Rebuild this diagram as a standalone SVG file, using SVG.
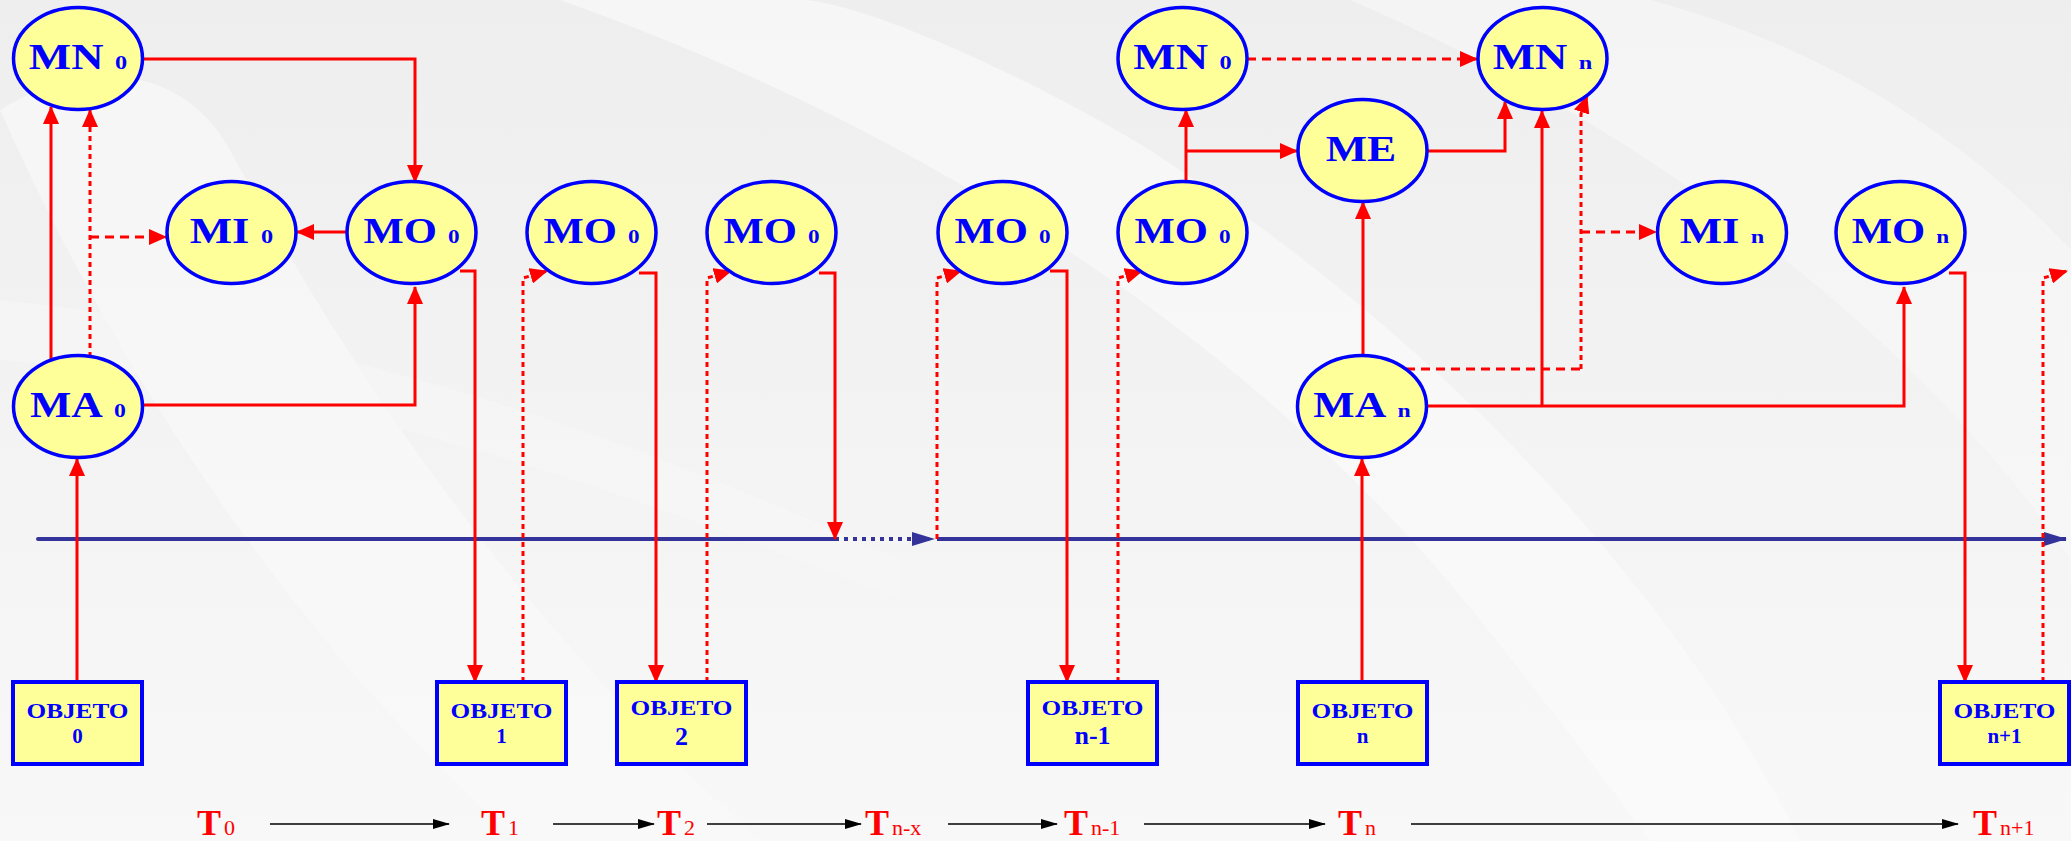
<svg xmlns="http://www.w3.org/2000/svg" width="2071" height="841" viewBox="0 0 2071 841">
<style>
.nd{fill:#ffff99;stroke:#0000ff;stroke-width:3.5}
.bx{fill:#ffff99;stroke:#0000ff;stroke-width:4}
.lb{font-family:"Liberation Serif","Times New Roman",serif;font-weight:bold;fill:#0000ff}
.big{font-size:35px}
.sub{font-size:19px}
.ob{font-size:21px}
.o2{font-size:21px}
.tl{font-family:"Liberation Serif","Times New Roman",serif;fill:#ff0000}
.tT{font-size:36px;font-weight:bold}
.tS{font-size:22px}
.r{fill:none;stroke:#ff0000;stroke-width:3}
.rd{fill:none;stroke:#ff0000;stroke-width:3;stroke-dasharray:5 4}
.rh{fill:none;stroke:#ff0000;stroke-width:3;stroke-dasharray:9 6}
.k{fill:none;stroke:#000;stroke-width:1.5}
</style>
<defs>
<linearGradient id="bg" x1="0" y1="0" x2="0" y2="1">
<stop offset="0" stop-color="#eeeeee"/>
<stop offset="1" stop-color="#f8f8f8"/>
</linearGradient>
<marker id="ar" markerUnits="userSpaceOnUse" markerWidth="18" markerHeight="16" refX="17" refY="8" orient="auto"><path d="M0,0 L18,8 L0,16 Z" fill="#ff0000"/></marker>
<marker id="ab" markerUnits="userSpaceOnUse" markerWidth="24" markerHeight="14" refX="22" refY="7" orient="auto"><path d="M0,0 L23,7 L0,14 Z" fill="#333399"/></marker>
<marker id="ak" markerUnits="userSpaceOnUse" markerWidth="17" markerHeight="10" refX="16" refY="5" orient="auto"><path d="M0,0 L17,5 L0,10 Z" fill="#000"/></marker>
</defs>
<g id="background">
<rect width="2071" height="841" fill="url(#bg)"/>
<path d="M0,110 C120,380 300,650 520,841 L760,841 C560,660 380,430 230,150 C180,60 80,60 0,110 Z" fill="#fafafa" opacity="0.6"/>
<path d="M560,0 C900,120 1250,330 1480,620 C1560,720 1620,800 1650,841 L1800,841 C1700,640 1500,380 1150,150 C1000,60 850,0 800,0 Z" fill="#fbfbfb" opacity="0.6"/>
<path d="M1350,0 C1700,150 1950,380 2071,560 L2071,250 C1950,120 1800,40 1650,0 Z" fill="#f9f9f9" opacity="0.6"/>
<path d="M0,300 C300,330 600,420 900,560 L900,600 C600,480 300,380 0,360 Z" fill="#f6f6f6" opacity="0.6"/>
</g>
<g id="timeline">
<path d="M38,539 H835" stroke="#333399" stroke-width="4" fill="none" stroke-linecap="round"/>
<path d="M835,539 H934" stroke="#333399" stroke-width="4" fill="none" stroke-dasharray="4 5" marker-end="url(#ab)"/>
<path d="M937,539 H2066" stroke="#333399" stroke-width="4" fill="none" marker-end="url(#ab)"/>
</g>
<g id="connectors">
<path class="r" d="M77,682 V459" marker-end="url(#ar)"/>
<path class="r" d="M51,360 V107" marker-end="url(#ar)"/>
<path class="rd" d="M90,357 V110" marker-end="url(#ar)"/>
<path class="rh" d="M90,237 H166" marker-end="url(#ar)"/>
<path class="r" d="M143,59 H415 V182" marker-end="url(#ar)"/>
<path class="r" d="M143,405 H415 V287" marker-end="url(#ar)"/>
<path class="r" d="M347,232 H297" marker-end="url(#ar)"/>
<path class="r" d="M460,271 H475 V682" marker-end="url(#ar)"/>
<path class="rd" d="M523,682 V278 L547,271" marker-end="url(#ar)"/>
<path class="r" d="M639,273 H656 V682" marker-end="url(#ar)"/>
<path class="rd" d="M707,682 V278 L731,271" marker-end="url(#ar)"/>
<path class="r" d="M819,273 H835 V539" marker-end="url(#ar)"/>
<path class="rd" d="M937,539 V278 L961,271" marker-end="url(#ar)"/>
<path class="r" d="M1050,271 H1067 V682" marker-end="url(#ar)"/>
<path class="rd" d="M1118,682 V278 L1142,271" marker-end="url(#ar)"/>
<path class="r" d="M1186,182 V110" marker-end="url(#ar)"/>
<path class="r" d="M1186,151 H1297" marker-end="url(#ar)"/>
<path class="rh" d="M1247,59 H1477" marker-end="url(#ar)"/>
<path class="r" d="M1427,151 H1505 V102" marker-end="url(#ar)"/>
<path class="r" d="M1363,355 V202" marker-end="url(#ar)"/>
<path class="r" d="M1427,406 H1904 V287" marker-end="url(#ar)"/>
<path class="r" d="M1542,406 V111" marker-end="url(#ar)"/>
<path class="rh" d="M1406,369 H1581"/>
<path class="rd" d="M1581,369 V114 L1587,96" marker-end="url(#ar)"/>
<path class="rh" d="M1581,232 H1656" marker-end="url(#ar)"/>
<path class="r" d="M1949,273 H1965 V682" marker-end="url(#ar)"/>
<path class="rd" d="M2043,682 V278 L2067,271" marker-end="url(#ar)"/>
<path class="r" d="M1362,682 V459" marker-end="url(#ar)"/>
</g>
<g id="n-MN0a"><ellipse class="nd" cx="78" cy="58.5" rx="64.5" ry="51"/><text class="lb" transform="translate(78,69) scale(1.28,1)" text-anchor="middle"><tspan class="big">MN</tspan><tspan class="sub" dx="9">0</tspan></text></g>
<g id="n-MI0"><ellipse class="nd" cx="231.5" cy="232.5" rx="64.5" ry="51"/><text class="lb" transform="translate(231.5,243) scale(1.28,1)" text-anchor="middle"><tspan class="big">MI</tspan><tspan class="sub" dx="9">0</tspan></text></g>
<g id="n-MO0a"><ellipse class="nd" cx="411.5" cy="232.5" rx="64.5" ry="51"/><text class="lb" transform="translate(411.5,243) scale(1.22,1)" text-anchor="middle"><tspan class="big">MO</tspan><tspan class="sub" dx="9">0</tspan></text></g>
<g id="n-MA0"><ellipse class="nd" cx="78" cy="406.5" rx="64.5" ry="51"/><text class="lb" transform="translate(78,417) scale(1.25,1)" text-anchor="middle"><tspan class="big">MA</tspan><tspan class="sub" dx="9">0</tspan></text></g>
<g id="n-MO0b"><ellipse class="nd" cx="591.5" cy="232.5" rx="64.5" ry="51"/><text class="lb" transform="translate(591.5,243) scale(1.22,1)" text-anchor="middle"><tspan class="big">MO</tspan><tspan class="sub" dx="9">0</tspan></text></g>
<g id="n-MO0c"><ellipse class="nd" cx="771.5" cy="232.5" rx="64.5" ry="51"/><text class="lb" transform="translate(771.5,243) scale(1.22,1)" text-anchor="middle"><tspan class="big">MO</tspan><tspan class="sub" dx="9">0</tspan></text></g>
<g id="n-MO0d"><ellipse class="nd" cx="1002.5" cy="232.5" rx="64.5" ry="51"/><text class="lb" transform="translate(1002.5,243) scale(1.22,1)" text-anchor="middle"><tspan class="big">MO</tspan><tspan class="sub" dx="9">0</tspan></text></g>
<g id="n-MO0e"><ellipse class="nd" cx="1182.5" cy="232.5" rx="64.5" ry="51"/><text class="lb" transform="translate(1182.5,243) scale(1.22,1)" text-anchor="middle"><tspan class="big">MO</tspan><tspan class="sub" dx="9">0</tspan></text></g>
<g id="n-MN0b"><ellipse class="nd" cx="1182.5" cy="58.5" rx="64.5" ry="51"/><text class="lb" transform="translate(1182.5,69) scale(1.28,1)" text-anchor="middle"><tspan class="big">MN</tspan><tspan class="sub" dx="9">0</tspan></text></g>
<g id="n-ME"><ellipse class="nd" cx="1362.5" cy="150.5" rx="64.5" ry="51"/><text class="lb" transform="translate(1361,161) scale(1.25,1)" text-anchor="middle"><tspan class="big">ME</tspan></text></g>
<g id="n-MNn"><ellipse class="nd" cx="1542.5" cy="58.5" rx="64.5" ry="51"/><text class="lb" transform="translate(1542.5,69) scale(1.28,1)" text-anchor="middle"><tspan class="big">MN</tspan><tspan class="sub" dx="9">n</tspan></text></g>
<g id="n-MAn"><ellipse class="nd" cx="1362" cy="406.5" rx="64.5" ry="51"/><text class="lb" transform="translate(1362,417) scale(1.25,1)" text-anchor="middle"><tspan class="big">MA</tspan><tspan class="sub" dx="9">n</tspan></text></g>
<g id="n-MIn"><ellipse class="nd" cx="1722" cy="232.5" rx="64.5" ry="51"/><text class="lb" transform="translate(1722,243) scale(1.28,1)" text-anchor="middle"><tspan class="big">MI</tspan><tspan class="sub" dx="9">n</tspan></text></g>
<g id="n-MOn"><ellipse class="nd" cx="1900.5" cy="232.5" rx="64.5" ry="51"/><text class="lb" transform="translate(1900.5,243) scale(1.22,1)" text-anchor="middle"><tspan class="big">MO</tspan><tspan class="sub" dx="9">n</tspan></text></g>
<g id="o-0"><rect class="bx" x="13" y="682" width="129" height="82"/><text class="lb ob" x="77.5" y="718" text-anchor="middle" textLength="102" lengthAdjust="spacingAndGlyphs">OBJETO</text><text class="lb o2" x="77.5" y="743" text-anchor="middle">0</text></g>
<g id="o-1"><rect class="bx" x="437" y="682" width="129" height="82"/><text class="lb ob" x="501.5" y="718" text-anchor="middle" textLength="102" lengthAdjust="spacingAndGlyphs">OBJETO</text><text class="lb o2" x="501.5" y="743" text-anchor="middle">1</text></g>
<g id="o-2"><rect class="bx" x="617" y="682" width="129" height="82"/><text class="lb ob" x="681.5" y="715" text-anchor="middle" textLength="102" lengthAdjust="spacingAndGlyphs">OBJETO</text><text class="lb" x="681.5" y="745" text-anchor="middle" font-size="26">2</text></g>
<g id="o-n-1"><rect class="bx" x="1028" y="682" width="129" height="82"/><text class="lb ob" x="1092.5" y="715" text-anchor="middle" textLength="102" lengthAdjust="spacingAndGlyphs">OBJETO</text><text class="lb" x="1092.5" y="744" text-anchor="middle" font-size="26">n-1</text></g>
<g id="o-n"><rect class="bx" x="1298" y="682" width="129" height="82"/><text class="lb ob" x="1362.5" y="718" text-anchor="middle" textLength="102" lengthAdjust="spacingAndGlyphs">OBJETO</text><text class="lb o2" x="1362.5" y="743" text-anchor="middle">n</text></g>
<g id="o-n+1"><rect class="bx" x="1940" y="682" width="129" height="82"/><text class="lb ob" x="2004.5" y="718" text-anchor="middle" textLength="102" lengthAdjust="spacingAndGlyphs">OBJETO</text><text class="lb o2" x="2004.5" y="743" text-anchor="middle">n+1</text></g>
<g id="time-axis">
<path class="k" d="M270,824 H449" marker-end="url(#ak)"/>
<path class="k" d="M553,824 H654" marker-end="url(#ak)"/>
<path class="k" d="M707,824 H861" marker-end="url(#ak)"/>
<path class="k" d="M948,824 H1057" marker-end="url(#ak)"/>
<path class="k" d="M1144,824 H1325" marker-end="url(#ak)"/>
<path class="k" d="M1411,824 H1958" marker-end="url(#ak)"/>
<text class="tl" x="197" y="835"><tspan class="tT">T</tspan><tspan class="tS" dx="3">0</tspan></text>
<text class="tl" x="481" y="835"><tspan class="tT">T</tspan><tspan class="tS" dx="3">1</tspan></text>
<text class="tl" x="657" y="835"><tspan class="tT">T</tspan><tspan class="tS" dx="3">2</tspan></text>
<text class="tl" x="865" y="835"><tspan class="tT">T</tspan><tspan class="tS" dx="3">n-x</tspan></text>
<text class="tl" x="1064" y="835"><tspan class="tT">T</tspan><tspan class="tS" dx="3">n-1</tspan></text>
<text class="tl" x="1338" y="835"><tspan class="tT">T</tspan><tspan class="tS" dx="3">n</tspan></text>
<text class="tl" x="1973" y="835"><tspan class="tT">T</tspan><tspan class="tS" dx="3">n+1</tspan></text>
</g>
</svg>
